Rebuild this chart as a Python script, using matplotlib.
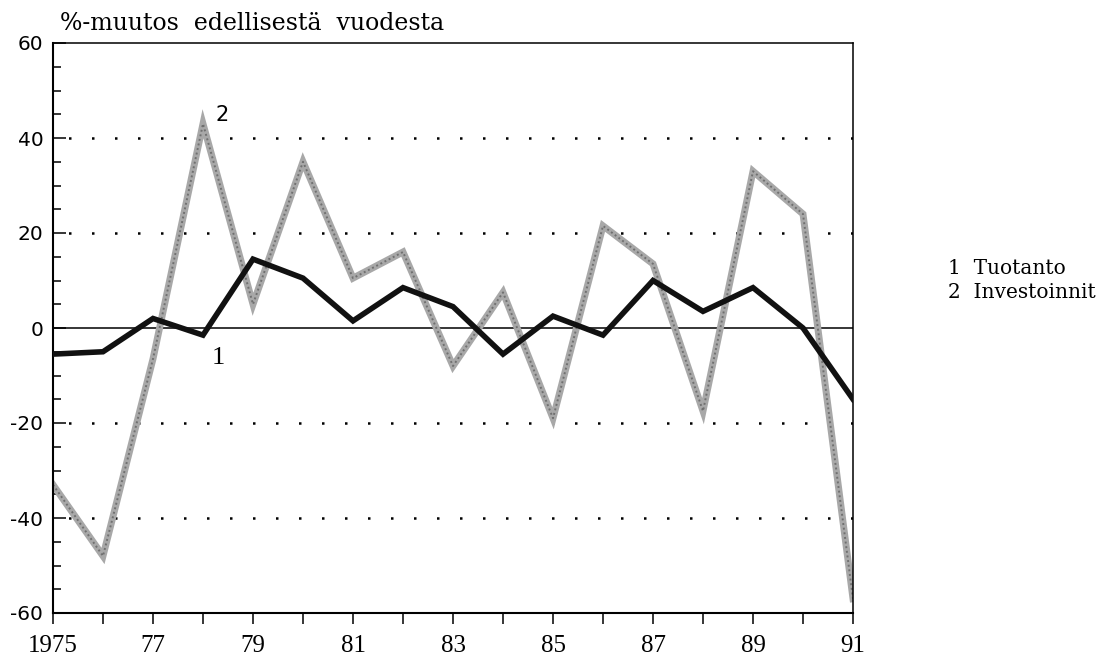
import numpy as np
import matplotlib
matplotlib.use("Agg")
import matplotlib.pyplot as plt
from matplotlib.ticker import MultipleLocator, FixedLocator


years = list(range(1975, 1992))
tuotanto = [-5.5, -5.0, 2.0, -1.5, 14.5, 10.5, 1.5, 8.5, 4.5, -5.5,
            2.5, -1.5, 10.0, 3.5, 8.5, 0.0, -15.0]
investoinnit = [-33.0, -48.0, -6.5, 43.0, 5.0, 35.0, 10.5, 16.0, -8.0, 7.5,
                -19.0, 21.5, 13.5, -17.5, 33.0, 24.0, -57.0]

x_tick_labels = ["1975", "77", "79", "81", "83", "85", "87", "89", "91"]
y_ticks = [-60, -40, -20, 0, 20, 40, 60]
legend_lines = ["1  Tuotanto", "2  Investoinnit"]

SERIF = "Liberation Serif"
SANS = "DejaVu Sans"

fig = plt.figure(figsize=(11.2, 6.59), dpi=100)
ax = fig.add_axes([53 / 1120, 1 - 613 / 659, 800 / 1120, 570 / 659])

# Grid: solid zero line, sparse dotted lines at +-20, +-40
ax.axhline(0, color="black", lw=1.1, zorder=1)
for y in (-40, -20, 20, 40):
    ax.axhline(y, color="black", lw=1.8, linestyle=(3, (1, 8.2)), zorder=1)

# Series
ax.plot(years, investoinnit, color="#a8a8a8", lw=5, solid_joinstyle="miter", zorder=2)
ax.plot(years, investoinnit, color="#707070", lw=1.4, linestyle=(0, (1, 1.4)), zorder=2)
ax.plot(years, tuotanto, color="#111111", lw=4, solid_joinstyle="miter", zorder=3)

ax.set_xlim(1975, 1991)
ax.set_ylim(-60, 60)

ax.xaxis.set_major_locator(FixedLocator(list(range(1975, 1992, 2))))
ax.xaxis.set_minor_locator(FixedLocator(list(range(1976, 1991, 2))))
ax.set_xticklabels(x_tick_labels, fontfamily=SERIF, fontsize=18)
ax.set_yticks(y_ticks)
ax.set_yticklabels([str(v) for v in y_ticks], fontfamily=SANS, fontsize=14.5)
ax.yaxis.set_minor_locator(MultipleLocator(5))

ax.tick_params(axis="x", which="both", direction="out", length=8, width=1.1, pad=8)
ax.tick_params(axis="y", which="major", direction="in", length=9, width=1.1, pad=7)
ax.tick_params(axis="y", which="minor", direction="in", length=6, width=1.1)

for side in ("left", "bottom"):
    ax.spines[side].set_linewidth(1.5)
for side in ("top", "right"):
    ax.spines[side].set_linewidth(1.1)

# Series markers
ax.text(1978.38, 44.8, "2", fontfamily=SANS, fontsize=15, ha="center", va="center")
ax.text(1978.3, -6.3, "1", fontfamily=SERIF, fontsize=19, ha="center", va="center")

# Title
fig.text(60 / 1120, 1 - 24 / 659, "%-muutos  edellisestä  vuodesta",
         fontfamily="DejaVu Serif", fontsize=17, ha="left", va="center")

# Legend
for i, line in enumerate(legend_lines):
    fig.text(948 / 1120, 1 - (269 + i * 24) / 659, line,
             fontfamily="DejaVu Serif", fontsize=14.5, ha="left", va="center")

fig.savefig("out.png", dpi=100)
